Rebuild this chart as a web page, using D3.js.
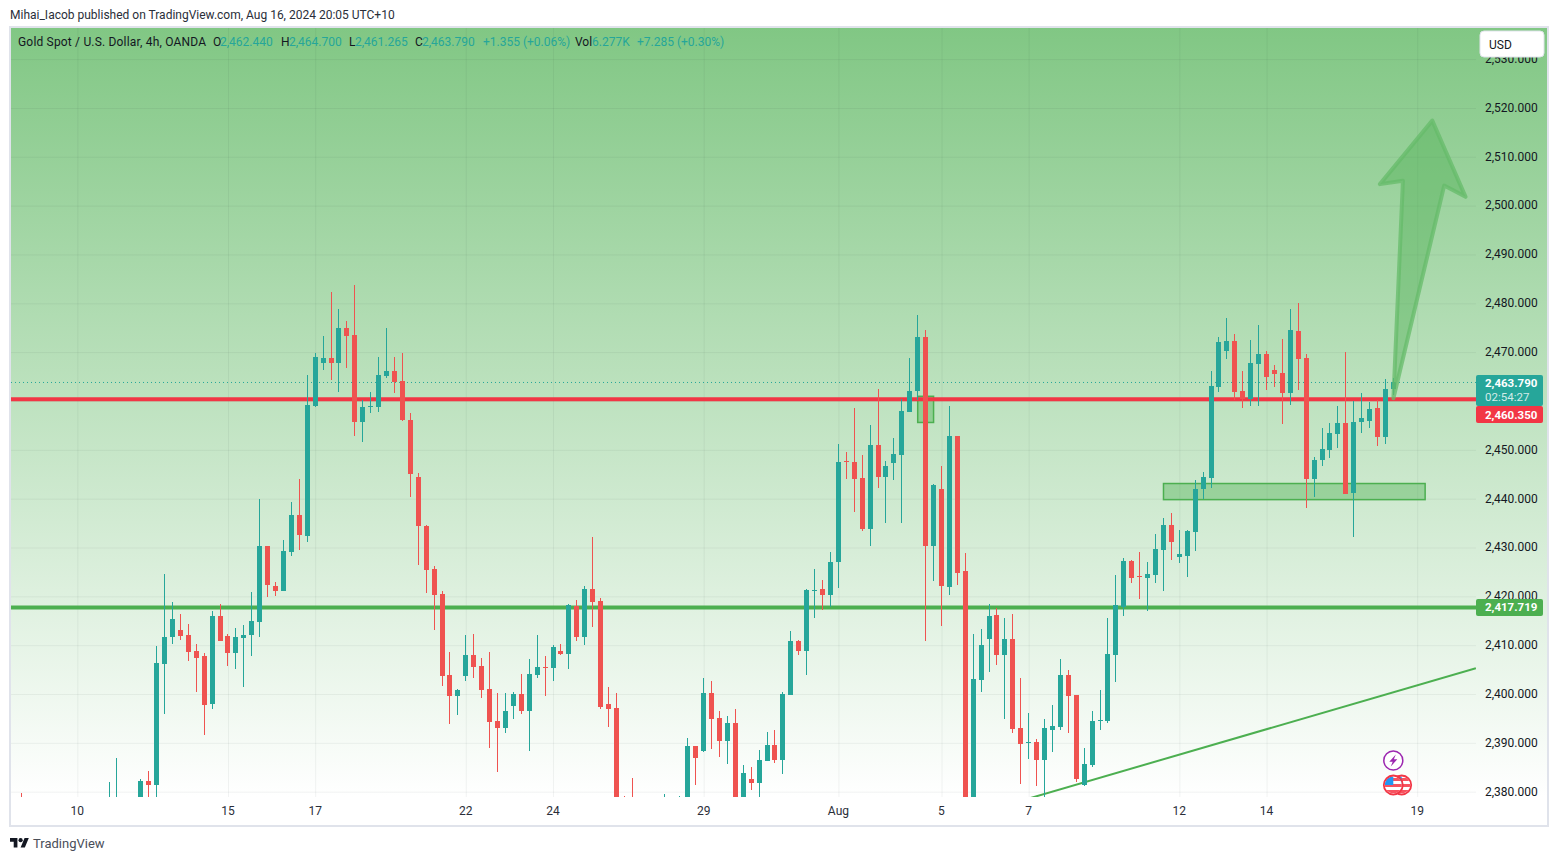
<!DOCTYPE html>
<html>
<head>
<meta charset="utf-8">
<title>Gold Spot / U.S. Dollar, 4h</title>
<script src="https://cdn.jsdelivr.net/npm/d3@7"></script>
<style>
  body { margin: 0; background: #fff; }
  svg { display: block; }
  text { font-family: Roboto, "Noto Sans", sans-serif; }
</style>
</head>
<body>
<svg id="chart" width="1558" height="861"></svg>
<script>
// candles, first one sits at candle number -11
// the ones under the bottom edge of the chart are only rough guesses
const firstCandle = -11;
const opens = [
  2378.5, 2376, 2374, 2373, 2371.5, 2372, 2373.5, 2375, 2376, 2374.5, 2373,
  2375, 2377.5, 2376, 2377, 2376, 2382.1, 2381.3, 2406.1, 2411.7, 2413.1,
  2412, 2408.8, 2407.7, 2398, 2415.9, 2411.8, 2408.4, 2411.5, 2412.1, 2414.8,
  2430.3, 2422.1, 2421.1, 2429.1, 2436.7, 2432.4, 2459, 2467.7, 2468.8, 2467.7,
  2475, 2473.5, 2455.6, 2458.9, 2458.8, 2465.2, 2466.2, 2464.1, 2456.1, 2444.4,
  2434.4, 2425.6, 2420.5, 2403.9, 2399.6, 2403.7, 2408, 2405.7, 2401, 2394.5,
  2393.1, 2397.6, 2400, 2396.6, 2403.9, 2405.5, 2405.4, 2408.8, 2408.2, 2418.1,
  2411.7, 2421.5, 2419, 2397.9, 2397.1, 2377.5, 2377, 2375, 2374, 2373,
  2375, 2376.5, 2376, 2377, 2389.3, 2388.4, 2400.2, 2395.1, 2390.4,
  2394, 2376, 2382.6, 2381.8, 2386.3, 2389.6, 2386.5, 2399.8, 2410.8, 2408.8,
  2421, 2421.5, 2420.3, 2427.1, 2447.7, 2447.6, 2444.3, 2433.8, 2450.9, 2444.5,
  2447.2, 2449, 2457.8, 2462.1, 2473.2, 2430.3, 2442, 2421.9, 2452.9, 2425.2,
  2372, 2402.8, 2411.3, 2416.2, 2408, 2411.3, 2393, 2390, 2390.1, 2386.4,
  2392.6, 2393.2, 2403.9, 2399.8, 2381.3, 2385.4, 2394.5, 2394.4, 2408, 2417.8,
  2427.3, 2424.2, 2423.8, 2424.4, 2429.5, 2434.6, 2428.1, 2428.3, 2433.2, 2442,
  2444.3, 2462.9, 2470.2, 2472.3, 2462.1, 2460.4, 2467.6, 2469.6, 2466.4, 2465.7,
  2461.6, 2474.3, 2468.8, 2444, 2447.9, 2450, 2453.3, 2455.5, 2441.2, 2455.7,
  2455.9, 2458.6, 2452.6, 2462.44
];
const highs = [
  2379.7, 2377.5, 2376, 2375, 2374, 2375, 2377, 2377.5, 2378, 2376, 2376.5,
  2381.9, 2386.8, 2378.5, 2378.7, 2382.5, 2384.2, 2409.8, 2424.5, 2418.8, 2416.3,
  2414.3, 2410.2, 2408.4, 2417, 2418.4, 2412.3, 2413.5, 2414.1, 2420.9, 2439.9,
  2430.3, 2422.9, 2431.5, 2439.3, 2444, 2465.3, 2469.8, 2473.3, 2482.3, 2478.9,
  2476.4, 2483.7, 2460.3, 2461.9, 2469, 2475, 2469, 2469.8, 2457.6, 2445.3,
  2434.6, 2426.2, 2421.1, 2408.6, 2401, 2412.1, 2412.3, 2407.4, 2408.6, 2400.2,
  2400.2, 2400.4, 2404.1, 2407.2, 2412.1, 2407.8, 2410, 2410.2, 2418.4, 2419.2,
  2422.1, 2432.1, 2419.6, 2401.4, 2400.2, 2379.1, 2382.8, 2378.4, 2378, 2377.6,
  2379.5, 2378.2, 2379.1, 2391, 2389.3, 2403.3, 2402.6, 2396.5, 2395.5,
  2396.9, 2385.5, 2385, 2388.5, 2392.2, 2392.6, 2400.4, 2412.9, 2411, 2421.5,
  2425.6, 2423.3, 2429.1, 2451.1, 2449.6, 2458.5, 2449, 2455, 2462.4, 2447.8,
  2452.5, 2460.5, 2468.7, 2477.7, 2474.5, 2442.9, 2446.6, 2458.9, 2452.9, 2428.9,
  2412.3, 2413.3, 2418.4, 2417.6, 2415.6, 2416.4, 2403.3, 2396.1, 2390.7, 2394.8,
  2397.7, 2407.2, 2404.9, 2399.8, 2388.9, 2396.5, 2400.8, 2415.6, 2424.4, 2427.9,
  2427.5, 2429.1, 2427.1, 2432.8, 2436.1, 2437.1, 2433.6, 2433.6, 2443.8, 2445.5,
  2466.2, 2473.1, 2477, 2473.7, 2466.2, 2472.5, 2475.6, 2470.2, 2467.4, 2472.7,
  2478.8, 2480.1, 2469.6, 2448.6, 2454.5, 2455.5, 2459, 2470, 2460, 2461.7,
  2459.8, 2460.2, 2464.5, 2464.7
];
const lows = [
  2374, 2372, 2371, 2370, 2369, 2370, 2372, 2373, 2373.5, 2372, 2372,
  2374, 2376, 2374, 2375, 2375, 2376, 2376, 2396, 2410.3, 2411,
  2406.7, 2400.5, 2391.6, 2396.9, 2410.9, 2405.7, 2405.1, 2401.5, 2407.8, 2411.7,
  2419.9, 2420.1, 2421.1, 2428.3, 2429.5, 2431.2, 2458.8, 2466.4, 2464.2, 2461.9,
  2466.8, 2452.8, 2451.7, 2457.6, 2457.8, 2464.8, 2461.7, 2455.9, 2440.4, 2426.4,
  2420.7, 2413.2, 2401.7, 2393.9, 2395.8, 2402.7, 2403.3, 2399.2, 2389, 2384.1,
  2392.1, 2394.9, 2396, 2388.4, 2403.3, 2399.6, 2402.7, 2408, 2405.2, 2410.9,
  2410.1, 2413.8, 2397, 2393.3, 2372, 2374, 2373, 2372, 2371, 2371,
  2372, 2373, 2373, 2374, 2381.4, 2388.1, 2388.7, 2387.1, 2385.7,
  2374, 2374, 2380.3, 2378, 2386.3, 2385.9, 2383.6, 2399.8, 2408, 2403.9,
  2415.5, 2417.3, 2417.9, 2421.7, 2444.1, 2437.3, 2433.4, 2430.3, 2442.2, 2435.1,
  2443.9, 2435.1, 2457.8, 2460.1, 2410.8, 2423.2, 2413.9, 2420.3, 2422.3, 2370,
  2370, 2400.4, 2404.5, 2405.9, 2394.8, 2392, 2381.5, 2386.6, 2381.1, 2379,
  2388.1, 2392.6, 2392, 2381.9, 2381.1, 2385, 2392.6, 2394, 2402.4, 2416,
  2422.8, 2419.5, 2417, 2422.8, 2421.1, 2427.5, 2426.9, 2424, 2429.3, 2439.9,
  2442.2, 2461.9, 2468.6, 2460.2, 2458.6, 2459, 2459, 2462.3, 2462.9, 2455.3,
  2459.2, 2462.3, 2438.1, 2440.4, 2446.7, 2448.3, 2450.4, 2441, 2432.2, 2453.5,
  2454.5, 2450.8, 2451.2, 2461.265
];
const closes = [
  2376, 2374, 2373, 2371.5, 2372, 2373.5, 2375, 2376, 2374.5, 2373, 2375,
  2377.5, 2378, 2377, 2376, 2382.1, 2381.3, 2406.3, 2411.6, 2415.4, 2411.9,
  2408.7, 2407.4, 2397.8, 2415.9, 2410.9, 2408.4, 2411.6, 2412, 2414.9, 2430.3,
  2422.3, 2421.1, 2429.3, 2436.7, 2432.6, 2459.2, 2469, 2468.8, 2467.7, 2475,
  2473.4, 2455.6, 2458.8, 2459, 2465.3, 2466.2, 2463.9, 2456.1, 2445.1, 2434.3,
  2425.4, 2420.3, 2403.7, 2399.6, 2400.8, 2408, 2405.6, 2400.9, 2394.3, 2393.1,
  2396.5, 2400, 2396.6, 2404.1, 2405.5, 2405.4, 2409.6, 2408.2, 2418.2, 2411.7,
  2421.5, 2418.9, 2397.4, 2397, 2376, 2377, 2375, 2374, 2373, 2375,
  2376.5, 2376, 2377, 2389.3, 2387, 2400.2, 2394.9, 2390.4, 2394,
  2376, 2383.8, 2381.8, 2386.5, 2389.6, 2386.5, 2400, 2410.8, 2408.9, 2421.3,
  2421.4, 2420.2, 2427.1, 2447.6, 2447.6, 2444.1, 2433.8, 2450.9, 2444.5, 2446.6,
  2449.2, 2458, 2462.1, 2473, 2430.3, 2442.7, 2422.1, 2452.9, 2424.8, 2372,
  2403.1, 2410, 2416, 2408, 2411.3, 2392.8, 2389.7, 2390.1, 2386.4, 2393,
  2393.4, 2403.9, 2399.6, 2382.7, 2385.6, 2394.4, 2394.6, 2408.2, 2418.2, 2427.3,
  2423.8, 2424.1, 2424.6, 2429.7, 2434.6, 2431.2, 2428.7, 2433.4, 2442, 2444.5,
  2463.1, 2472.1, 2472.3, 2461.9, 2460.4, 2467.8, 2469.6, 2464.9, 2465.5, 2461.6,
  2474.5, 2468.6, 2444, 2447.9, 2450.2, 2453.5, 2455.5, 2441, 2455.7, 2456.5,
  2458.4, 2452.6, 2462.5, 2463.79
];

// axis ticks, the 2,460 label sits under the price tags so it only gets a grid line
const priceTicks = [2380, 2390, 2400, 2410, 2420, 2430, 2440, 2450, 2460, 2470, 2480, 2490, 2500, 2510, 2520, 2530];
const priceLabels = priceTicks.filter(d => d !== 2460);
const dateTicks = [-4, 15, 26, 45, 56, 75, 92, 105, 116, 135, 146, 165];
const dateLabels = ["10", "15", "17", "22", "24", "29", "Aug", "5", "7", "12", "14", "19"];

// drawings, in candle number and price
const lastPrice = 2463.79;
const resistance = 2460.35;
const support = 2417.719;
const trendCandles = [116, 172.4];
const trendPrices = [2378.6, 2405.3];
const zoneCandles = [[133, 166], [102, 104]];
const zonePrices = [[2443.1, 2439.8], [2460.96, 2455.6]];
const arrowCandles = [162, 168.4, 171.1, 166.9, 160.3, 163.2];
const arrowPrices = [2460.55, 2504.1, 2501.8, 2517.4, 2504.4, 2505.1];

const teal = "#26a69a", red = "#ef5350", lineRed = "#f23645", lineGreen = "#4caf50";
const inkDark = "#131722";

const plotLeft = 11, plotRight = 1476, outerRight = 1547, plotTop = 28, plotBottom = 797;

const x = d3.scaleLinear().domain([-4, 165]).range([77.3, 1417.2]);
const y = d3.scaleLinear().domain([2380, 2480]).range([791.7, 303.3]);

const svg = d3.select("#chart");
const defs = svg.append("defs");

// background fades from green down to white
const grad = defs.append("linearGradient").attr("id", "bg").attr("x1", 0).attr("x2", 0).attr("y1", 0).attr("y2", 1);
grad.append("stop").attr("offset", 0).attr("stop-color", "#81c784");
grad.append("stop").attr("offset", 1).attr("stop-color", "#ffffff");

defs.append("clipPath").attr("id", "plot").append("rect")
  .attr("x", plotLeft).attr("y", plotTop).attr("width", plotRight - plotLeft).attr("height", plotBottom - plotTop);
defs.append("clipPath").attr("id", "flagClip").append("circle").attr("r", 8.5);

svg.append("text").attr("x", 10).attr("y", 19).attr("font-size", 12).attr("fill", "#2a2e39")
  .text("Mihai_Iacob published on TradingView.com, Aug 16, 2024 20:05 UTC+10");

svg.append("rect").attr("x", plotLeft).attr("y", plotTop).attr("width", outerRight - plotLeft).attr("height", plotBottom - plotTop)
  .attr("fill", "url(#bg)");

// grid
const gridX = svg.append("g").attr("transform", `translate(0,${plotBottom})`)
  .call(d3.axisBottom(x).tickValues(dateTicks).tickSize(-(plotBottom - plotTop)).tickFormat(""));
const gridY = svg.append("g").attr("transform", `translate(${plotRight},0)`)
  .call(d3.axisLeft(y).tickValues(priceTicks).tickSize(plotRight - plotLeft).tickFormat(""));
gridX.select(".domain").remove();
gridY.select(".domain").remove();
gridX.selectAll("line").attr("stroke", "#2a2e39").attr("stroke-opacity", 0.06);
gridY.selectAll("line").attr("stroke", "#2a2e39").attr("stroke-opacity", 0.06);

const plot = svg.append("g").attr("clip-path", "url(#plot)");

// zones
zoneCandles.forEach((c, k) => {
  plot.append("rect")
    .attr("x", x(c[0])).attr("y", y(zonePrices[k][0]))
    .attr("width", x(c[1]) - x(c[0])).attr("height", y(zonePrices[k][1]) - y(zonePrices[k][0]))
    .attr("fill", lineGreen).attr("fill-opacity", 0.4)
    .attr("stroke", lineGreen).attr("stroke-width", 1.5);
});

// price lines
plot.append("line").attr("x1", plotLeft).attr("x2", plotRight).attr("y1", y(lastPrice)).attr("y2", y(lastPrice))
  .attr("stroke", teal).attr("stroke-dasharray", "1 3");
[[resistance, lineRed], [support, lineGreen]].forEach(d => {
  plot.append("line").attr("x1", plotLeft).attr("x2", plotRight).attr("y1", y(d[0])).attr("y2", y(d[0]))
    .attr("stroke", d[1]).attr("stroke-width", 4);
});
plot.append("line")
  .attr("x1", x(trendCandles[0])).attr("y1", y(trendPrices[0]))
  .attr("x2", x(trendCandles[1])).attr("y2", y(trendPrices[1]))
  .attr("stroke", lineGreen).attr("stroke-width", 2);

// candles
const candleNumbers = d3.range(opens.length);
const cx = i => Math.floor(x(i + firstCandle));
const colour = i => closes[i] >= opens[i] ? teal : red;

plot.append("g").selectAll("rect").data(candleNumbers).join("rect")
  .attr("shape-rendering", "crispEdges")
  .attr("x", cx).attr("width", 1)
  .attr("y", i => y(highs[i]))
  .attr("height", i => y(lows[i]) - y(highs[i]))
  .attr("fill", colour);

plot.append("g").selectAll("rect").data(candleNumbers).join("rect")
  .attr("shape-rendering", "crispEdges")
  .attr("x", i => cx(i) - 2).attr("width", 5)
  .attr("y", i => y(Math.max(opens[i], closes[i])))
  .attr("height", i => Math.max(1, Math.abs(y(opens[i]) - y(closes[i]))))
  .attr("fill", colour);

// arrow
const arrowLine = d3.line().x(d => x(d)).y((d, i) => y(arrowPrices[i])).curve(d3.curveLinearClosed);
svg.append("path").attr("d", arrowLine(arrowCandles))
  .attr("fill", "#4caf50").attr("fill-opacity", 0.42)
  .attr("stroke", "#66bb6a").attr("stroke-opacity", 0.75).attr("stroke-width", 4).attr("stroke-linejoin", "round");

// white strip under the plot, then the axes
svg.append("rect").attr("x", plotLeft).attr("y", plotBottom).attr("width", outerRight - plotLeft).attr("height", 28).attr("fill", "#fff");

const axisRight = svg.append("g").attr("transform", `translate(${plotRight},-0.5)`)
  .call(d3.axisRight(y).tickValues(priceLabels).tickSize(0).tickPadding(9).tickFormat(d3.format(",.3f")));
axisRight.select(".domain").remove();
axisRight.selectAll("text").attr("font-family", "Roboto, sans-serif").attr("font-size", 12).attr("fill", inkDark);

const axisBottom = svg.append("g").attr("transform", `translate(-0.5,${plotBottom + 0.5})`)
  .call(d3.axisBottom(x).tickValues(dateTicks).tickSize(0).tickPadding(9).tickFormat((d, i) => dateLabels[i]));
axisBottom.select(".domain").remove();
axisBottom.selectAll("text").attr("font-family", "Roboto, sans-serif").attr("font-size", 12).attr("fill", "#2a2e39");

// frame
svg.append("rect").attr("x", 10).attr("y", 27).attr("width", 1538).attr("height", 799)
  .attr("fill", "none").attr("stroke", "#e0e3eb").attr("stroke-width", 2);

// legend line at the top
function legend(px, str, fill) {
  return svg.append("text").attr("x", px).attr("y", 46).attr("font-size", 12).attr("fill", fill).text(str);
}
legend(18, "Gold Spot / U.S. Dollar, 4h, OANDA", inkDark).attr("textLength", 188).attr("lengthAdjust", "spacing");
legend(213, "O", inkDark);
legend(220, "2,462.440", teal);
legend(281, "H", inkDark);
legend(289, "2,464.700", teal);
legend(349, "L", inkDark);
legend(355, "2,461.265", teal);
legend(415, "C", inkDark);
legend(422, "2,463.790", teal);
legend(483, "+1.355 (+0.06%)", teal);
legend(575, "Vol", inkDark);
legend(592, "6.277K", teal);
legend(637, "+7.285 (+0.30%)", teal);

// USD button
svg.append("rect").attr("x", 1480).attr("y", 31).attr("width", 64).attr("height", 26).attr("rx", 4)
  .attr("fill", "#fff").attr("stroke", "#e0e3eb");
svg.append("text").attr("x", 1489).attr("y", 48.5).attr("font-size", 12).attr("fill", inkDark).text("USD");

// price tags on the axis
function tag(ty, h, fill) {
  svg.append("rect").attr("x", plotRight).attr("y", ty).attr("width", 67).attr("height", h).attr("rx", 2).attr("fill", fill);
}
function tagText(ty, str, bold, opacity) {
  svg.append("text").attr("x", 1485).attr("y", ty).attr("font-size", 11.5).attr("font-weight", bold ? 700 : 400)
    .attr("fill", "#fff").attr("fill-opacity", opacity).text(str);
}
tag(375, 31, teal);
tagText(386.5, d3.format(",.3f")(lastPrice), true, 1);
tagText(401, "02:54:27", false, 0.8);
tag(406, 17, lineRed);
tagText(418.5, d3.format(",.3f")(resistance), true, 1);
tag(599, 17, lineGreen);
tagText(611, d3.format(",.3f")(support), true, 1);

// event icons
const bolt = svg.append("g").attr("transform", "translate(1393.3,760.5)");
bolt.append("circle").attr("r", 9.5).attr("fill", "#fff").attr("stroke", "#9c27b0").attr("stroke-width", 1.5);
bolt.append("path").attr("d", "M2.5,-6 L-4,1.2 L-0.6,1.2 L-2.5,6 L4,-1.2 L0.6,-1.2 Z").attr("fill", "#9c27b0");

[1401.7, 1393.3].forEach(fx => {
  const flag = svg.append("g").attr("transform", `translate(${fx},785)`);
  const inner = flag.append("g").attr("clip-path", "url(#flagClip)");
  inner.append("rect").attr("x", -10).attr("y", -10).attr("width", 20).attr("height", 20).attr("fill", "#fff");
  [-7, -1, 5].forEach(sy => {
    inner.append("rect").attr("x", -10).attr("y", sy).attr("width", 20).attr("height", 3).attr("fill", "#f7525f");
  });
  inner.append("rect").attr("x", -10).attr("y", -10).attr("width", 10).attr("height", 10).attr("fill", "#2196f3");
  flag.append("circle").attr("r", 9.5).attr("fill", "none").attr("stroke", "#f23645").attr("stroke-width", 1.8);
});

// TradingView mark at the bottom
const logo = svg.append("g").attr("transform", "translate(10,835.9) scale(0.53)").attr("fill", "#131722");
logo.append("path").attr("d", "M14 22H7V11H0V4h14v18zM28 22h-8l7.5-18h8L28 22z");
logo.append("circle").attr("cx", 20).attr("cy", 8).attr("r", 4);
svg.append("text").attr("x", 33).attr("y", 848).attr("font-size", 13).attr("fill", "#4a4e59").text("TradingView");
</script>
</body>
</html>
